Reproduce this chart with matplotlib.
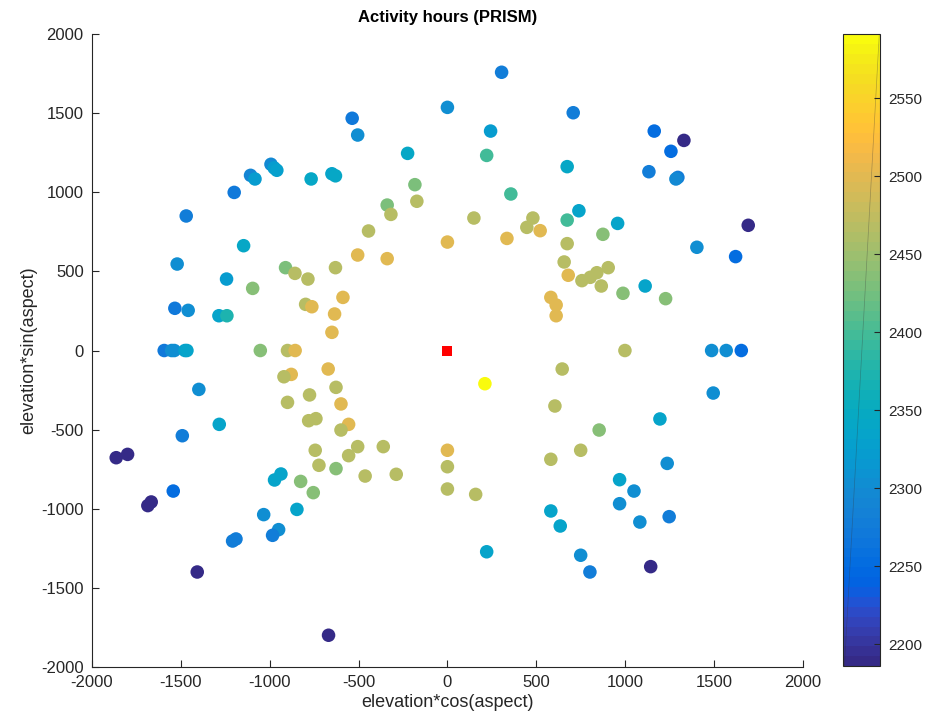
import matplotlib.pyplot as plt
from matplotlib.colors import ListedColormap

# Station coordinates projected by aspect, and PRISM activity hours
x_pos = [-1470, -1200, -1108, -1083, -993, -975, -960, -767, -650, -630,
         -1147, -1521, -1243, -1096, -911, -858, -785, -630, -1534, -1459,
         -1286, -1241, -798, -763, -1594, -1552, -1537, -1477, -1466, -1053,
         -900, -857,
         305, -536, -505, 0, 243, -224, 221, -183, -172, -339,
         -318, 357, 149, 481, 447, 522, 674, 674, -444, 0,
         335, -505, -339, 674, 657, 680, -588, -635, -650, 582,
         612, 612,
         708, 1164, 1331, 1258, 1134, 1297, 1286, 740, 958, 875,
         1693, 1404, 1622, 757, 804, 841, 905, 866, 988, 1113,
         1228, 999, 1487, 1569, 1654,
         -879, -920, -671, -627, -1399, -776, -900, -1284, -1492, -781,
         -740, -1864, -1800, -744, -723, -627, -937, -973, -826, -755,
         -1543, -1667, -1686, -847, -1034, -950, -984, -1190, -1209, -1408,
         -669,
         -599, -556, -599, -505, -361, -556, -463, -288, 0, 0,
         0, 159, 211, 646, 605, 582, 582, 635, 221,
         1496, 1196, 854, 750, 1237, 969, 1050, 969, 1083, 1248,
         750, 802, 1144]

y_pos = [851, 1000, 1108, 1085, 1178, 1155, 1140, 1085, 1118, 1105,
         663, 547, 452, 393, 524, 488, 452, 524, 267, 254,
         220, 220, 292, 277, 0, 0, 0, 0, 0, 0,
         0, 0,
         1760, 1469, 1363, 1538, 1388, 1247, 1234, 1049, 944, 920,
         861, 990, 838, 838, 779, 758, 825, 1163, 756, 686,
         709, 604, 581, 676, 560, 476, 336, 231, 115, 336,
         288, 220,
         1504, 1388, 1329, 1260, 1131, 1095, 1085, 884, 804, 735,
         792, 653, 594, 442, 463, 492, 524, 408, 362, 408,
         328, 0, 0, 0, 0,
         -151, -166, -117, -233, -246, -281, -328, -467, -539, -444,
         -431, -678, -657, -631, -726, -747, -781, -819, -828, -899,
         -889, -958, -981, -1005, -1038, -1133, -1169, -1192, -1205, -1401,
         -1801,
         -338, -467, -503, -608, -608, -665, -794, -783, -631, -735,
         -876, -910, -210, -117, -351, -688, -1015, -1110, -1273,
         -269, -433, -503, -631, -714, -817, -889, -969, -1085, -1051,
         -1295, -1401, -1367]

hours = [2275, 2270, 2290, 2320, 2295, 2320, 2330, 2340, 2335, 2340,
         2340, 2305, 2320, 2435, 2430, 2465, 2470, 2465, 2270, 2305,
         2335, 2370, 2468, 2500, 2270, 2300, 2305, 2330, 2335, 2435,
         2468, 2500,
         2275, 2270, 2300, 2305, 2320, 2340, 2395, 2430, 2465, 2430,
         2465, 2395, 2465, 2465, 2465, 2500, 2395, 2340, 2465, 2500,
         2500, 2500, 2500, 2470, 2470, 2500, 2500, 2500, 2500, 2500,
         2500, 2500,
         2275, 2250, 2190, 2250, 2275, 2280, 2295, 2335, 2335, 2435,
         2190, 2305, 2255, 2465, 2465, 2465, 2465, 2465, 2435, 2335,
         2435, 2465, 2305, 2305, 2255,
         2500, 2465, 2500, 2465, 2300, 2465, 2465, 2335, 2280, 2465,
         2465, 2190, 2190, 2465, 2465, 2435, 2335, 2335, 2435, 2435,
         2250, 2190, 2190, 2335, 2305, 2305, 2280, 2280, 2280, 2190,
         2186,
         2500, 2500, 2465, 2465, 2465, 2465, 2465, 2465, 2500, 2465,
         2465, 2465, 2591, 2465, 2465, 2465, 2335, 2335, 2335,
         2305, 2335, 2435, 2465, 2305, 2335, 2305, 2305, 2305, 2280,
         2305, 2280, 2190]

cbar_ticks = [2200, 2250, 2300, 2350, 2400, 2450, 2500, 2550]

# MATLAB parula, 64 entries
parula_rgb = [
    [0.2081, 0.1663, 0.5292], [0.2116, 0.1898, 0.5777], [0.2123, 0.2138, 0.6270],
    [0.2081, 0.2386, 0.6771], [0.1959, 0.2645, 0.7279], [0.1707, 0.2919, 0.7792],
    [0.1253, 0.3242, 0.8303], [0.0591, 0.3598, 0.8683], [0.0117, 0.3875, 0.8820],
    [0.0060, 0.4086, 0.8828], [0.0165, 0.4266, 0.8786], [0.0329, 0.4430, 0.8720],
    [0.0498, 0.4586, 0.8641], [0.0629, 0.4737, 0.8554], [0.0723, 0.4887, 0.8467],
    [0.0779, 0.5040, 0.8384], [0.0793, 0.5200, 0.8312], [0.0749, 0.5375, 0.8263],
    [0.0641, 0.5570, 0.8240], [0.0488, 0.5772, 0.8228], [0.0343, 0.5966, 0.8199],
    [0.0265, 0.6137, 0.8135], [0.0239, 0.6287, 0.8038], [0.0231, 0.6418, 0.7913],
    [0.0228, 0.6535, 0.7768], [0.0267, 0.6642, 0.7607], [0.0384, 0.6743, 0.7436],
    [0.0590, 0.6838, 0.7254], [0.0843, 0.6928, 0.7062], [0.1133, 0.7015, 0.6859],
    [0.1453, 0.7098, 0.6646], [0.1801, 0.7177, 0.6424], [0.2178, 0.7250, 0.6193],
    [0.2586, 0.7317, 0.5954], [0.3022, 0.7376, 0.5712], [0.3482, 0.7424, 0.5473],
    [0.3953, 0.7459, 0.5244], [0.4420, 0.7481, 0.5033], [0.4871, 0.7491, 0.4840],
    [0.5300, 0.7491, 0.4661], [0.5709, 0.7485, 0.4494], [0.6099, 0.7473, 0.4337],
    [0.6473, 0.7456, 0.4188], [0.6834, 0.7435, 0.4044], [0.7184, 0.7411, 0.3905],
    [0.7525, 0.7384, 0.3768], [0.7858, 0.7356, 0.3633], [0.8185, 0.7327, 0.3498],
    [0.8507, 0.7299, 0.3360], [0.8824, 0.7274, 0.3217], [0.9139, 0.7258, 0.3063],
    [0.9450, 0.7261, 0.2886], [0.9739, 0.7314, 0.2666], [0.9938, 0.7455, 0.2403],
    [0.9990, 0.7653, 0.2164], [0.9955, 0.7861, 0.1967], [0.9880, 0.8066, 0.1794],
    [0.9789, 0.8271, 0.1633], [0.9697, 0.8481, 0.1475], [0.9626, 0.8705, 0.1309],
    [0.9589, 0.8949, 0.1132], [0.9598, 0.9218, 0.0948], [0.9661, 0.9514, 0.0755],
    [0.9763, 0.9831, 0.0538]]
parula = ListedColormap(parula_rgb, name='parula')

plt.rcParams['font.family'] = ['Liberation Sans', 'DejaVu Sans']
plt.rcParams['axes.unicode_minus'] = False
dark = '#262626'

fig = plt.figure(figsize=(9.27, 7.21), dpi=100)
ax = fig.add_axes([0.0993, 0.0753, 0.7667, 0.8771])

sc = ax.scatter(x_pos, y_pos, c=hours, cmap=parula, s=95, linewidths=0, zorder=2)
# reference point at the origin
ax.scatter([0], [0], marker='s', s=45, color='red', linewidths=0, zorder=3)

ax.set_xlim(-2000, 2000)
ax.set_ylim(-2000, 2000)
ax.set_xticks(range(-2000, 2001, 500))
ax.set_yticks(range(-2000, 2001, 500))
ax.spines['top'].set_visible(False)
ax.spines['right'].set_visible(False)
for side in ['left', 'bottom']:
    ax.spines[side].set_color(dark)
    ax.spines[side].set_linewidth(0.8)
ax.tick_params(direction='in', length=5, width=0.8, colors=dark,
               labelsize=12, pad=6)

ax.set_title('Activity hours (PRISM)', fontsize=12, fontweight='bold', pad=9)
ax.set_xlabel('elevation*cos(aspect)', fontsize=13, color=dark, labelpad=3)
ax.set_ylabel('elevation*sin(aspect)', fontsize=13, color=dark, labelpad=3)

cax = fig.add_axes([0.9094, 0.0763, 0.0399, 0.8761])
cb = fig.colorbar(sc, cax=cax, ticks=cbar_ticks)
cb.outline.set_edgecolor(dark)
cb.outline.set_linewidth(0.8)
cax.tick_params(direction='in', length=4, width=0.8, colors=dark,
                labelsize=11, pad=6)
# thin diagonal stroke left over across the colour strip
cax.plot([0.04, 0.98], [0.0, 1.0], transform=cax.transAxes,
         color='#333333', lw=0.5, alpha=0.35)

fig.savefig('out.png', dpi=100)
